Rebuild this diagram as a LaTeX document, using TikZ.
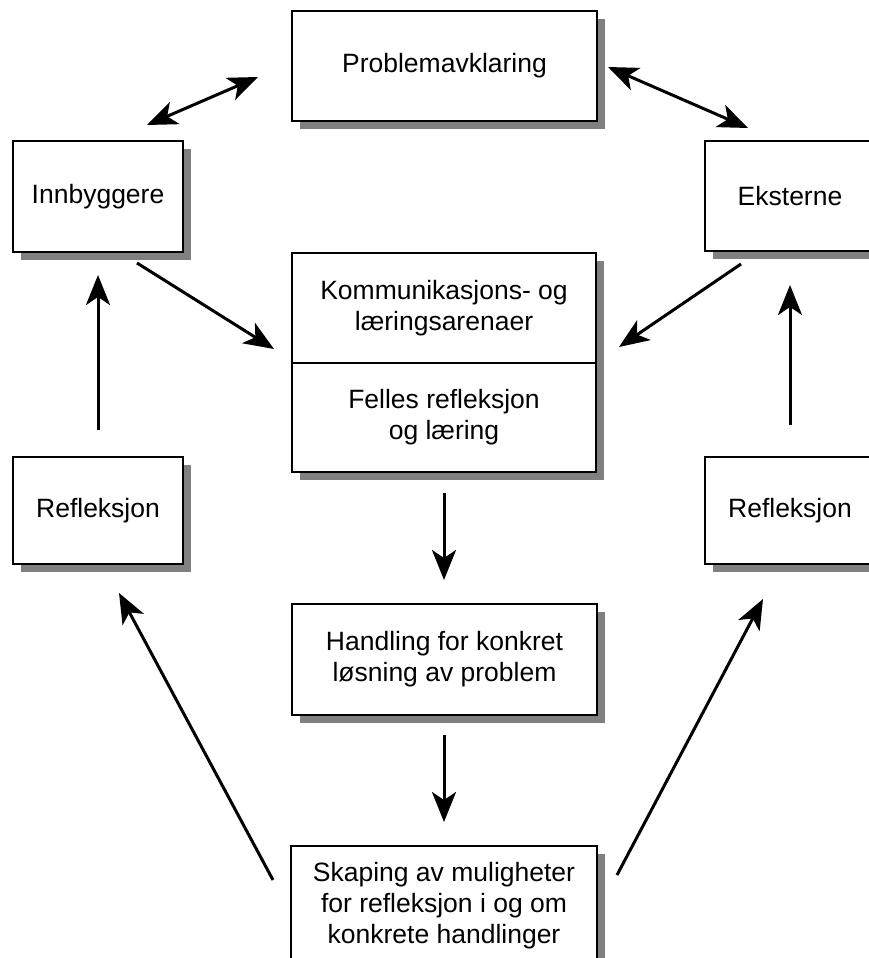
\documentclass[tikz,border=0pt]{standalone}
\usepackage{fontspec}
\setmainfont{Liberation Sans}
\usetikzlibrary{shadows,arrows.meta}

\begin{document}
\begin{tikzpicture}[x=1pt,y=-1pt,
  box/.style={draw=black, line width=2.2pt, fill=white, align=center,
    inner sep=0pt, font=\fontsize{26.5}{31}\selectfont,
    drop shadow={shadow xshift=8pt, shadow yshift=-8pt, fill=black!50, opacity=1}},
  tip/.style={Stealth[length=30pt,width=24pt,inset=8pt]},
  arr/.style={line width=3pt, -{Stealth[length=30pt,width=24pt,inset=8pt]}},
  darr/.style={line width=3pt, {Stealth[length=30pt,width=24pt,inset=8pt]}-{Stealth[length=30pt,width=24pt,inset=8pt]}}
]
\clip (0,0) rectangle (869,958);
\fill[white] (0,0) rectangle (869,958);

% boxes
\node[box, minimum width=305pt, minimum height=110pt] (prob) at (444.5,66) {Problemavklaring};
\node[box, minimum width=170pt, minimum height=111pt] (inn) at (98,196.5) {Innbyggere};
\node[box, minimum width=170pt, minimum height=110pt] (eks) at (790,196) {Eksterne};
\node[box, minimum width=304pt, minimum height=110pt] (komm) at (444,308) {Kommunikasjons- og\\læringsarenaer};
\node[box, minimum width=304pt, minimum height=109pt] (felles) at (444,417.5) {Felles refleksjon\\og læring};
\node[box, minimum width=170pt, minimum height=107pt] (refl) at (98,510.5) {Refleksjon};
\node[box, minimum width=170pt, minimum height=107pt] (refr) at (790,510.5) {Refleksjon};
\node[box, minimum width=305pt, minimum height=111pt] (hand) at (444.5,659.5) {Handling for konkret\\løsning av problem};
\node[box, minimum width=306pt, minimum height=120pt] (skap) at (444,906) {Skaping av muligheter\\for refleksjon i og om\\konkrete handlinger};

% connector end points
\coordinate (innTop) at (147,125);
\coordinate (probL) at (258,77);
\coordinate (probR) at (608,67);
\coordinate (eksTop) at (748,128);
\coordinate (innOut) at (137,263);
\coordinate (kommL) at (274,349);
\coordinate (eksOut) at (741,264);
\coordinate (kommR) at (619,347);
\coordinate (reflUp) at (98,430);
\coordinate (innBot) at (98,275);
\coordinate (refrUp) at (790,425);
\coordinate (eksBot) at (790,285);
\coordinate (fellesOut) at (444,493);
\coordinate (handIn) at (444,580);
\coordinate (handOut) at (444,735);
\coordinate (skapIn) at (444,822);
\coordinate (skapL) at (273,880);
\coordinate (reflBot) at (119,593);
\coordinate (skapR) at (617,875);
\coordinate (refrBot) at (763,599);

% connectors
\draw[darr] (innTop) -- (probL);
\draw[darr] (probR) -- (eksTop);
\draw[arr] (innOut) -- (kommL);
\draw[arr] (eksOut) -- (kommR);
\draw[arr] (reflUp) -- (innBot);
\draw[arr] (refrUp) -- (eksBot);
\draw[arr] (fellesOut) -- (handIn);
\draw[arr] (handOut) -- (skapIn);
\draw[arr] (skapL) -- (reflBot);
\draw[arr] (skapR) -- (refrBot);
\end{tikzpicture}
\end{document}
